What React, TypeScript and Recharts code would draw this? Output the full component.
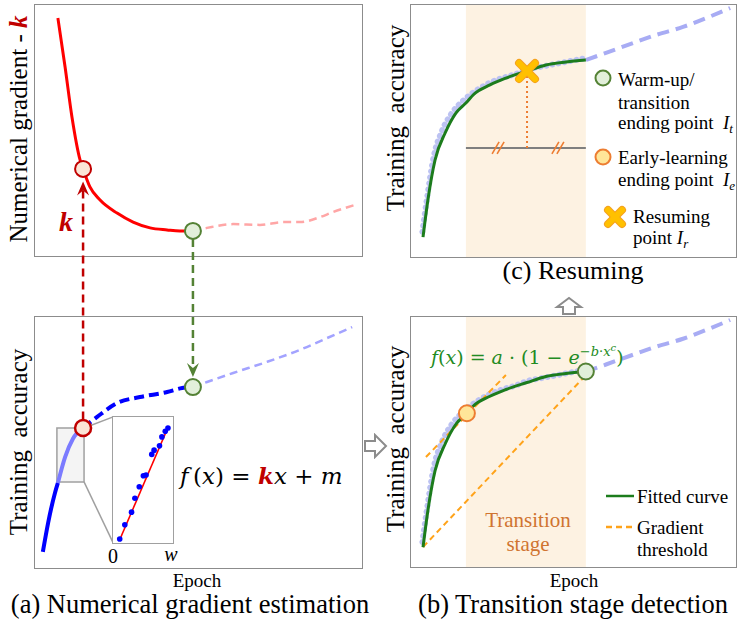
import React from "react";
import {
  LineChart,
  ComposedChart,
  Line,
  Scatter,
  XAxis,
  YAxis,
  ReferenceArea,
  ReferenceLine,
  ReferenceDot,
} from "recharts";

// (a) upper panel: numerical gradient k against epoch
const gradEpochs = [7, 9.2, 11.3, 13.8, 14.7, 16.8, 19.9, 25.1, 30, 35.2, 40.4, 44.3, 48.3];
const gradValues = [94.8, 75.3, 55.4, 38.2, 34.7, 27.5, 22.3, 17.1, 13.5, 11.2, 10.4, 10.0, 10.0];
const gradTailEpochs = [48.3, 52.6, 60.6, 68.8, 75.8, 81, 87.2, 91.1, 98.8];
const gradTailValues = [10, 11.2, 12.7, 12.4, 13.5, 13.5, 15.5, 17.5, 20.7];

// (a) lower panel: training accuracy, split by how it is drawn
const accStartEpochs = [2.4, 4.0, 6.1, 7.0];
const accStartValues = [6.4, 17.9, 29.9, 33.9];
const accWindowEpochs = [7.0, 9.2, 11.6, 14.7];
const accWindowValues = [33.9, 44.2, 51.5, 55.8];
const accMidEpochs = [14.7, 19, 25.1, 32.1, 40.4, 45, 48.3];
const accMidValues = [55.8, 60.2, 65.7, 68.1, 70.1, 71.7, 72.1];
const accTailEpochs = [48.3, 52.6, 60.6, 70.9, 81, 89.3, 97];
const accTailValues = [72.1, 74.1, 77.7, 82.1, 86.9, 91.6, 96];

// (a) inset: window of w epochs with linear fit
const insetX = [1.12, 1.97, 3.09, 3.65, 4.38, 5.06, 5.51, 6.46, 6.85, 7.75, 8.15, 8.71, 9.16];
const insetY = [0.32, 1.45, 2.45, 3.55, 4.47, 5.34, 5.39, 7.03, 7.37, 7.71, 8.42, 8.87, 9.13];
const fitLineX = [1.12, 9.27];
const fitLineY = [0.26, 9.29];

// (b)/(c): fitted curve, raw accuracy and later epochs
const fitEpochs = [3.7, 5.2, 7.4, 10.5, 13.8, 17.2, 19.1, 24.3, 29.2, 35.7, 41.5, 47.7, 53.8];
const fitValues = [7.9, 22.6, 38.5, 49.2, 57.1, 61.5, 64.3, 68.3, 71.0, 73.8, 76.2, 77.4, 78.2];
const rawEpochs = [3.5, 5.0, 7.0, 9.5, 12.5, 16, 20, 24, 28, 32, 36, 40, 44, 48, 52, 54];
const rawValues = [10, 24, 40, 50, 57, 62, 66, 69, 71, 72.5, 74.5, 75.5, 76.5, 77.5, 78.5, 79];
const laterEpochs = [53.8, 60, 68.3, 75.4, 83.7, 90.8, 98.2];
const laterValues = [78.2, 81, 84.9, 88.1, 91.3, 94.8, 98.8];

const transitionStart = 16.9;
const transitionEnd = 53.8;
const earlyEnd = 17.2;
const resumeEpoch = 35.7;

const pts = (xs: number[], ys: number[]) => xs.map((e, i) => ({ e, v: ys[i] }));

const RED = "#ff0000";
const DARKRED = "#c00000";
const GREEN = "#1c7c1c";
const FRAME = "#8c8c8c";
const SERIF = "'Liberation Serif', 'Times New Roman', Times, serif";

const ArrowLine = (props: any) => {
  const { x1, y1, x2, y2, stroke } = props;
  const dx = x2 - x1;
  const dy = y2 - y1;
  const len = Math.sqrt(dx * dx + dy * dy) || 1;
  const ux = dx / len;
  const uy = dy / len;
  const px = -uy;
  const py = ux;
  const hl = 14;
  const hw = 6;
  const bx = x2 - ux * hl;
  const by = y2 - uy * hl;
  const nx = x2 - ux * (hl - 5);
  const ny = y2 - uy * (hl - 5);
  return (
    <g>
      <line x1={x1} y1={y1} x2={nx} y2={ny} stroke={stroke} strokeWidth={2.5} strokeDasharray="8 5" />
      <path
        d={`M${x2},${y2} L${bx + px * hw},${by + py * hw} L${nx},${ny} L${bx - px * hw},${by - py * hw} Z`}
        fill={stroke}
      />
    </g>
  );
};

const Hatch = (props: any) => {
  const { cx, cy } = props;
  return (
    <g stroke="#ed7d31" strokeWidth={1.6}>
      <line x1={cx - 6} y1={cy + 6} x2={cx + 1} y2={cy - 6} />
      <line x1={cx - 1} y1={cy + 6} x2={cx + 6} y2={cy - 6} />
    </g>
  );
};

const Cross = (props: any) => {
  const { cx, cy } = props;
  const s = 8;
  return (
    <g strokeLinecap="round">
      <line x1={cx - s} y1={cy - s} x2={cx + s} y2={cy + s} stroke="#f4a020" strokeWidth={8} />
      <line x1={cx - s} y1={cy + s} x2={cx + s} y2={cy - s} stroke="#f4a020" strokeWidth={8} />
      <line x1={cx - s} y1={cy - s} x2={cx + s} y2={cy + s} stroke="#ffc000" strokeWidth={6} />
      <line x1={cx - s} y1={cy + s} x2={cx + s} y2={cy - s} stroke="#ffc000" strokeWidth={6} />
    </g>
  );
};

const InsetDot = (props: any) => <circle cx={props.cx} cy={props.cy} r={2.8} fill="#0000ff" />;

const place = (left: number, top: number, width: number, height: number): React.CSSProperties => ({
  position: "absolute",
  left,
  top,
  width,
  height,
  outline: `1.5px solid ${FRAME}`,
});

const Txt = ({ x, y, size, children, color, style }: any) => (
  <div
    style={{
      position: "absolute",
      left: x,
      top: y,
      transform: "translate(-50%, -50%)",
      fontSize: size,
      lineHeight: 1,
      whiteSpace: "nowrap",
      color: color || "#000",
      ...style,
    }}
  >
    {children}
  </div>
);

const LeftTxt = ({ x, y, size, children, color, style }: any) => (
  <div
    style={{
      position: "absolute",
      left: x,
      top: y,
      transform: "translateY(-50%)",
      fontSize: size,
      lineHeight: 1,
      whiteSpace: "nowrap",
      color: color || "#000",
      ...style,
    }}
  >
    {children}
  </div>
);

const VTxt = ({ x, y, size, children }: any) => (
  <div
    style={{
      position: "absolute",
      left: x,
      top: y,
      transform: "translate(-50%, -50%) rotate(-90deg)",
      fontSize: size,
      lineHeight: 1,
      whiteSpace: "nowrap",
    }}
  >
    {children}
  </div>
);

const axes = (max: number) => [
  <XAxis key="x" type="number" dataKey="e" domain={[0, max]} hide />,
  <YAxis key="y" type="number" dataKey="v" domain={[0, max]} hide />,
];

export default function App() {
  const zero = { top: 0, right: 0, bottom: 0, left: 0 };
  return (
    <div style={{ position: "relative", width: 746, height: 625, fontFamily: SERIF, background: "#fff" }}>
      <style>{`body{margin:0} .recharts-surface{overflow:visible} .recharts-wrapper{overflow:visible}`}</style>

      {/* (a) upper: numerical gradient */}
      <div style={place(35, 5, 327, 251)}>
        <LineChart width={327} height={251} margin={zero}>
          {axes(100)}
          <Line data={pts(gradTailEpochs, gradTailValues)} dataKey="v" type="monotone" stroke="#ffa6a6" strokeWidth={2.5} strokeDasharray="8 5" dot={false} isAnimationActive={false} />
          <Line data={pts(gradEpochs, gradValues)} dataKey="v" type="monotone" stroke={RED} strokeWidth={3} dot={false} isAnimationActive={false} />
          <ReferenceDot x={gradEpochs[4]} y={gradValues[4]} r={8} fill="#fbe5d6" stroke={DARKRED} strokeWidth={2} />
          <ReferenceDot x={gradEpochs[12]} y={gradValues[12]} r={8} fill="#e2efda" stroke="#548235" strokeWidth={2} />
        </LineChart>
      </div>

      {/* (a) lower: training accuracy */}
      <div style={place(35, 317, 327, 251)}>
        <LineChart width={327} height={251} margin={zero}>
          {axes(100)}
          <ReferenceArea x1={6.7} x2={15.0} y1={34.3} y2={55.8} fill="#f4f4f4" stroke="#a0a0a0" strokeWidth={1.5} fillOpacity={1} />
          <Line data={pts(accTailEpochs, accTailValues)} dataKey="v" type="monotone" stroke="#a3a3ff" strokeWidth={2.5} strokeDasharray="8 5" dot={false} isAnimationActive={false} />
          <Line data={pts(accStartEpochs, accStartValues)} dataKey="v" type="monotone" stroke="#0000ff" strokeWidth={4} dot={false} isAnimationActive={false} />
          <Line data={pts(accWindowEpochs, accWindowValues)} dataKey="v" type="monotone" stroke="#7b7bff" strokeWidth={4} dot={false} isAnimationActive={false} />
          <Line data={pts(accMidEpochs, accMidValues)} dataKey="v" type="monotone" stroke="#0000ff" strokeWidth={4} strokeDasharray="10 5" dot={false} isAnimationActive={false} />
          <ReferenceLine segment={[{ x: 15.0, y: 55.8 }, { x: 23.9, y: 60.2 }]} stroke="#a0a0a0" strokeWidth={1.5} ifOverflow="visible" />
          <ReferenceLine segment={[{ x: 15.0, y: 34.3 }, { x: 23.9, y: 10.0 }]} stroke="#a0a0a0" strokeWidth={1.5} ifOverflow="visible" />
          <ReferenceLine segment={[{ x: accMidEpochs[0], y: 59.2 }, { x: accMidEpochs[0], y: 154 }]} stroke={DARKRED} ifOverflow="visible" shape={ArrowLine} />
          <ReferenceLine segment={[{ x: accMidEpochs[6], y: 131.1 }, { x: accMidEpochs[6], y: 76.1 }]} stroke="#548235" ifOverflow="visible" shape={ArrowLine} />
          <ReferenceDot x={accMidEpochs[0]} y={accMidValues[0]} r={8} fill="#fbe5d6" stroke={DARKRED} strokeWidth={2.5} />
          <ReferenceDot x={accMidEpochs[6]} y={accMidValues[6]} r={8} fill="#e2efda" stroke="#548235" strokeWidth={2} />
        </LineChart>
      </div>

      {/* (a) inset window */}
      <div style={{ ...place(113, 417, 60, 126), outline: "1.5px solid #a0a0a0", background: "#fff" }}>
        <ComposedChart width={60} height={126} margin={zero}>
          {axes(10)}
          <Line data={pts(fitLineX, fitLineY)} dataKey="v" type="linear" stroke={RED} strokeWidth={1.6} dot={false} isAnimationActive={false} />
          <Scatter data={pts(insetX, insetY)} dataKey="v" fill="#0000ff" shape={InsetDot} isAnimationActive={false} />
        </ComposedChart>
      </div>

      {/* (c) resuming */}
      <div style={place(411, 5, 325, 252)}>
        <LineChart width={325} height={252} margin={zero}>
          {axes(100)}
          <ReferenceArea x1={transitionStart} x2={transitionEnd} fill="#fdf2e2" fillOpacity={1} stroke="none" />
          <Line data={pts(laterEpochs, laterValues)} dataKey="v" type="monotone" stroke="#a8acf4" strokeWidth={4} strokeDasharray="12 7" dot={false} isAnimationActive={false} />
          <Line data={pts(rawEpochs, rawValues)} dataKey="v" type="monotone" stroke="#bcc2f2" strokeWidth={6} strokeDasharray="0.1 6" strokeLinecap="round" dot={false} isAnimationActive={false} />
          <Line data={pts(fitEpochs, fitValues)} dataKey="v" type="monotone" stroke={GREEN} strokeWidth={3} dot={false} isAnimationActive={false} />
          <ReferenceLine segment={[{ x: transitionStart, y: 43.3 }, { x: transitionEnd, y: 43.3 }]} stroke="#7f7f7f" strokeWidth={2} />
          <ReferenceLine segment={[{ x: resumeEpoch, y: 43.3 }, { x: resumeEpoch, y: 72 }]} stroke="#ed7d31" strokeWidth={2} strokeDasharray="2 3" />
          <ReferenceDot x={26.8} y={43.3} r={1} shape={Hatch} />
          <ReferenceDot x={45.2} y={43.3} r={1} shape={Hatch} />
          <ReferenceDot x={resumeEpoch} y={fitValues[9]} r={8} shape={Cross} />
        </LineChart>
      </div>

      {/* (b) transition stage detection */}
      <div style={place(411, 317, 325, 250)}>
        <LineChart width={325} height={250} margin={zero}>
          {axes(100)}
          <ReferenceArea x1={transitionStart} x2={transitionEnd} fill="#fdf2e2" fillOpacity={1} stroke="none" />
          <Line data={pts(laterEpochs, laterValues)} dataKey="v" type="monotone" stroke="#a8acf4" strokeWidth={4} strokeDasharray="12 7" dot={false} isAnimationActive={false} />
          <Line data={pts(rawEpochs, rawValues)} dataKey="v" type="monotone" stroke="#bcc2f2" strokeWidth={6} strokeDasharray="0.1 6" strokeLinecap="round" dot={false} isAnimationActive={false} />
          <ReferenceLine segment={[{ x: 4.6, y: 44 }, { x: 29.2, y: 76.8 }]} stroke="#ffa31a" strokeWidth={2} strokeDasharray="6 4" />
          <ReferenceLine segment={[{ x: 3.7, y: 8 }, { x: 52.9, y: 75.5 }]} stroke="#ffa31a" strokeWidth={2} strokeDasharray="6 4" />
          <Line data={pts(fitEpochs, fitValues)} dataKey="v" type="monotone" stroke={GREEN} strokeWidth={3} dot={false} isAnimationActive={false} />
          <ReferenceDot x={earlyEnd} y={fitValues[5]} r={8} fill="#ffe699" stroke="#ed7d31" strokeWidth={2} />
          <ReferenceDot x={fitEpochs[12]} y={fitValues[12]} r={8} fill="#e2efda" stroke="#548235" strokeWidth={2} />
        </LineChart>
      </div>

      {/* axis titles */}
      <VTxt x={18} y={129} size={25}>
        Numerical gradient - <b style={{ color: DARKRED, fontStyle: "italic" }}>k</b>
      </VTxt>
      <VTxt x={18} y={442} size={25}>Training&nbsp; accuracy</VTxt>
      <VTxt x={395} y={118} size={25}>Training&nbsp; accuracy</VTxt>
      <VTxt x={395} y={439} size={25}>Training&nbsp; accuracy</VTxt>

      <Txt x={66} y={222} size={28} color={DARKRED} style={{ fontWeight: "bold", fontStyle: "italic" }}>k</Txt>

      <LeftTxt x={180} y={476} size={23} style={{ fontFamily: "'DejaVu Serif', serif" }}>
        <i>f</i>&thinsp;(<i>x</i>) = <b style={{ color: DARKRED, fontStyle: "italic" }}>k</b><i>x</i> + <i>m</i>
      </LeftTxt>
      <Txt x={113} y={556} size={20}>0</Txt>
      <Txt x={171} y={554} size={20} style={{ fontStyle: "italic" }}>w</Txt>

      <LeftTxt x={431} y={355} size={19} color="#228b22" style={{ fontFamily: "'DejaVu Serif', serif" }}>
        <i>f</i>(<i>x</i>) = <i>a</i> · (1 − <i>e</i>
        <sup style={{ fontSize: 13 }}>
          −<i>b</i>·<i>x</i>
          <sup style={{ fontSize: 10 }}>
            <i>c</i>
          </sup>
        </sup>
        )
      </LeftTxt>

      <Txt x={528} y={520} size={21} color="#d07430">Transition</Txt>
      <Txt x={528} y={544} size={21} color="#d07430">stage</Txt>

      {/* legend (b) */}
      <svg style={{ position: "absolute", left: 604, top: 486, width: 32, height: 50 }}>
        <line x1={2} y1={10} x2={30} y2={10} stroke={GREEN} strokeWidth={2.5} />
        <line x1={2} y1={41} x2={30} y2={41} stroke="#ffa31a" strokeWidth={2.5} strokeDasharray="6 4" />
      </svg>
      <LeftTxt x={637} y={496} size={19}>Fitted curve</LeftTxt>
      <LeftTxt x={637} y={527} size={19}>Gradient</LeftTxt>
      <LeftTxt x={637} y={549} size={19}>threshold</LeftTxt>

      {/* legend (c) */}
      <svg style={{ position: "absolute", left: 590, top: 64, width: 40, height: 170 }}>
        <circle cx={13} cy={14} r={7.5} fill="#e2efda" stroke="#548235" strokeWidth={2} />
        <circle cx={13} cy={93} r={7.5} fill="#ffe699" stroke="#ed7d31" strokeWidth={2} />
        <g strokeLinecap="round">
          <line x1={18} y1={146} x2={32} y2={160} stroke="#f4a020" strokeWidth={8} />
          <line x1={18} y1={160} x2={32} y2={146} stroke="#f4a020" strokeWidth={8} />
          <line x1={18} y1={146} x2={32} y2={160} stroke="#ffc000" strokeWidth={6} />
          <line x1={18} y1={160} x2={32} y2={146} stroke="#ffc000" strokeWidth={6} />
        </g>
      </svg>
      <LeftTxt x={618} y={79} size={19}>Warm-up/</LeftTxt>
      <LeftTxt x={618} y={102} size={19}>transition</LeftTxt>
      <LeftTxt x={618} y={124} size={19}>
        ending point&nbsp; <i>I<sub style={{ fontSize: 13 }}>t</sub></i>
      </LeftTxt>
      <LeftTxt x={618} y={157} size={19}>Early-learning</LeftTxt>
      <LeftTxt x={618} y={181} size={19}>
        ending point&nbsp; <i>I<sub style={{ fontSize: 13 }}>e</sub></i>
      </LeftTxt>
      <LeftTxt x={633} y={216} size={19}>Resuming</LeftTxt>
      <LeftTxt x={633} y={239} size={19}>
        point <i>I<sub style={{ fontSize: 13 }}>r</sub></i>
      </LeftTxt>

      {/* flow arrows */}
      <svg style={{ position: "absolute", left: 363, top: 433, width: 26, height: 26 }}>
        <path d="M2,8 H12 V2 L23,13 L12,24 V18 H2 Z" fill="#fff" stroke={FRAME} strokeWidth={2} />
      </svg>
      <svg style={{ position: "absolute", left: 554, top: 296, width: 30, height: 20 }}>
        <path d="M9,18 V11 H3 L15,2 L27,11 H21 V18 Z" fill="#fff" stroke={FRAME} strokeWidth={2} />
      </svg>

      {/* captions */}
      <Txt x={573} y={271} size={26}>(c) Resuming</Txt>
      <Txt x={197} y={580} size={19}>Epoch</Txt>
      <Txt x={574} y={580} size={19}>Epoch</Txt>
      <Txt x={190} y={604} size={26.5}>(a) Numerical gradient estimation</Txt>
      <Txt x={573} y={604} size={26.5}>(b) Transition stage detection</Txt>
    </div>
  );
}
